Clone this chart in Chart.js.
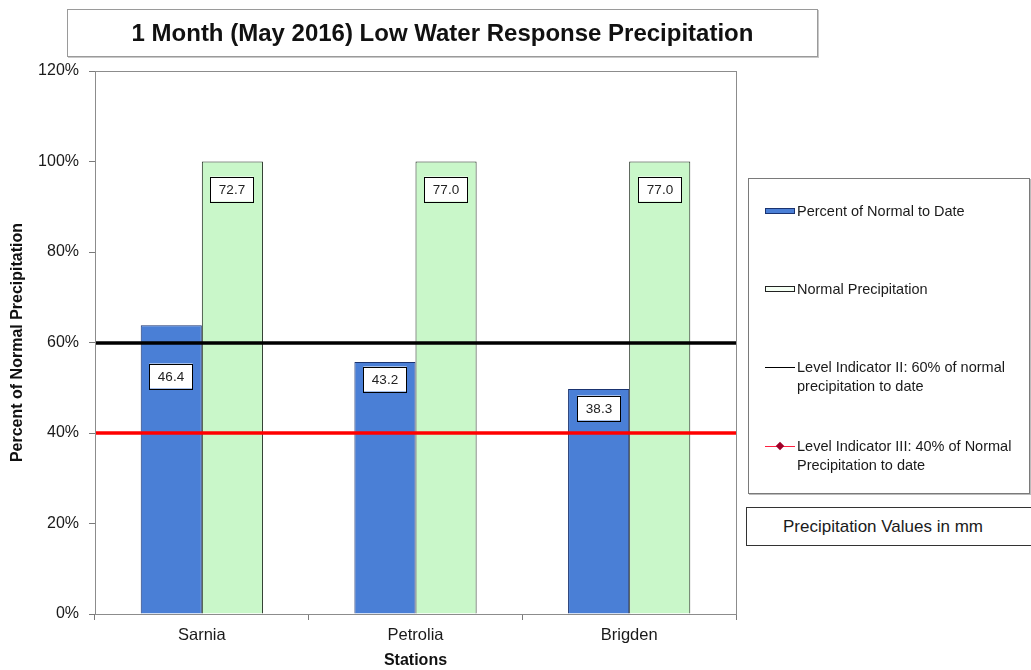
<!DOCTYPE html>
<html>
<head>
<meta charset="utf-8">
<script src="https://cdn.jsdelivr.net/npm/chart.js@4.4.1/dist/chart.umd.min.js"></script>
<style>
  html, body { margin:0; padding:0; background:#fff; }
  #wrap { position:relative; width:1031px; height:670px; overflow:hidden; font-family:"Liberation Sans", Arial, sans-serif; color:#1a1a1a; }
  canvas { position:absolute; left:0; top:0; }
  .box { position:absolute; background:#fff; box-sizing:border-box; }
  #titleBox { left:67px; top:9px; width:751px; height:48px; border:1px solid #9a9a9a; box-shadow:1px 1px 0 #c8c8c8; display:flex; align-items:center; justify-content:center; font-weight:bold; font-size:24px; color:#111; }
  #legendBox { left:748px; top:178px; width:282px; height:316px; border:1px solid #7a7a7a; box-shadow:1px 1px 0 #bbb; }
  #unitBox { left:746px; top:507px; width:300px; height:39px; border:1.5px solid #333; font-size:17px; display:flex; align-items:center; padding-left:36px; }
  .item { position:absolute; left:48px; font-size:14.5px; line-height:19px; white-space:nowrap; }
  .sw { position:absolute; left:16px; width:30px; height:6px; box-sizing:border-box; }
  .ln { position:absolute; left:16px; width:30px; height:0; }
</style>
</head>
<body>
<div id="wrap">
  <canvas id="c" width="1031" height="670"></canvas>
  <div id="titleBox" class="box">1 Month (May 2016) Low Water Response Precipitation</div>
  <div id="legendBox" class="box">
    <div class="sw" id="sw1" style="top:29px;"></div>
    <div class="item" style="top:23px;">Percent of Normal to Date</div>
    <div class="sw" id="sw2" style="top:107px;"></div>
    <div class="item" style="top:101px;">Normal Precipitation</div>
    <div class="ln" id="ln1" style="top:188px;"></div>
    <div class="item" style="top:179px;">Level Indicator II: 60% of normal<br>precipitation to date</div>
    <div class="ln" id="ln2" style="top:267px;"></div>
    <div id="dia" style="position:absolute; left:28px; top:264px; width:6px; height:6px; transform:rotate(45deg);"></div>
    <div class="item" style="top:258px;">Level Indicator III: 40% of Normal<br>Precipitation to date</div>
  </div>
  <div id="unitBox" class="box">Precipitation Values in mm</div>
</div>
<script>
// ---- data ----
const stations = ['Sarnia', 'Petrolia', 'Brigden'];
const percentOfNormalToDate = [63.8, 55.7, 49.7];
const normalPrecipitation = [100, 100, 100];
const mmToDate = [46.4, 43.2, 38.3];
const mmNormal = [72.7, 77.0, 77.0];
const levelIndicatorII = 60;
const levelIndicatorIII = 40;
const yTickValues = [0, 20, 40, 60, 80, 100, 120];

// ---- styles ----
const BLUE = '#4a7fd6', BLUE_BORDER = '#1a3370';
const GREEN = '#c9f7c9', GREEN_BORDER = '#1c2a1c';
const BLACK_LINE = '#000000', RED_LINE = '#ff0000';
const FONT = '"Liberation Sans", Arial, sans-serif';

document.getElementById('sw1').style.cssText += `background:${BLUE};border:1px solid ${BLUE_BORDER};`;
document.getElementById('sw2').style.cssText += `background:#f4fff4;border:1px solid #222;`;
document.getElementById('ln1').style.cssText += `border-top:1.5px solid ${BLACK_LINE};`;
document.getElementById('ln2').style.cssText += `border-top:1.5px solid #ff2040;`;
document.getElementById('dia').style.cssText += `background:#a00028;`;

// horizontal level indicator lines, positioned through the y scale
const levelLines = {
  id: 'levelLines',
  afterDatasetsDraw(chart, args, opts) {
    const {ctx, chartArea: a, scales: {y}} = chart;
    ctx.save();
    opts.lines.forEach(l => {
      const py = Math.round(y.getPixelForValue(l.value));
      ctx.strokeStyle = l.color;
      ctx.lineWidth = l.width;
      ctx.beginPath();
      ctx.moveTo(a.left, py);
      ctx.lineTo(a.right, py);
      ctx.stroke();
    });
    ctx.restore();
  }
};

const valueLabels = {
  id: 'valueLabels',
  afterDatasetsDraw(chart, args, opts) {
    const ctx = chart.ctx;
    ctx.save();
    ctx.font = `13.5px ${FONT}`;
    ctx.textAlign = 'center';
    ctx.textBaseline = 'middle';
    opts.items.forEach(item => {
      const meta = chart.getDatasetMeta(item.datasetIndex);
      meta.data.forEach((bar, i) => {
        const text = item.values[i].toFixed(1);
        const w = ctx.measureText(text).width + 17;
        const h = 25;
        const cx = Math.round(bar.x), cy = Math.round(bar.y + item.offsets[i]);
        ctx.fillStyle = '#fff';
        ctx.fillRect(cx - w / 2, cy - h / 2, w, h);
        ctx.strokeStyle = '#000';
        ctx.lineWidth = 1;
        ctx.strokeRect(Math.round(cx - w / 2) + 0.5, Math.round(cy - h / 2) + 0.5, Math.round(w), h);
        ctx.fillStyle = '#222';
        ctx.fillText(text, cx, cy + 1);
      });
    });
    ctx.restore();
  }
};

const plotBorder = {
  id: 'plotBorder',
  afterDraw(chart) {
    const {ctx, chartArea: a} = chart;
    ctx.save();
    ctx.strokeStyle = '#8c8c8c';
    ctx.lineWidth = 1;
    ctx.strokeRect(Math.round(a.left) + 0.5, Math.round(a.top) + 0.5, Math.round(a.right - a.left), Math.round(a.bottom - a.top));
    ctx.restore();
  }
};

new Chart(document.getElementById('c'), {
  type: 'bar',
  data: {
    labels: stations,
    datasets: [
      {
        label: 'Percent of Normal to Date',
        data: percentOfNormalToDate,
        backgroundColor: BLUE, borderColor: BLUE_BORDER, borderWidth: 1,
        barPercentage: 1, categoryPercentage: 0.572
      },
      {
        label: 'Normal Precipitation',
        data: normalPrecipitation,
        backgroundColor: GREEN, borderColor: GREEN_BORDER, borderWidth: 1,
        barPercentage: 1, categoryPercentage: 0.572
      }
    ]
  },
  options: {
    responsive: false,
    animation: false,
    devicePixelRatio: 1,
    layout: { padding: { left: 0, top: 71, right: 295, bottom: 0 } },
    plugins: {
      legend: { display: false },
      tooltip: { enabled: false },
      title: { display: false },
      levelLines: {
        lines: [
          { value: levelIndicatorII, color: BLACK_LINE, width: 3.5 },
          { value: levelIndicatorIII, color: RED_LINE, width: 3.5 }
        ]
      },
      valueLabels: {
        items: [
          { datasetIndex: 0, values: mmToDate, offsets: [51, 17, 19] },
          { datasetIndex: 1, values: mmNormal, offsets: [27, 27, 27] }
        ]
      }
    },
    scales: {
      x: {
        type: 'category',
        afterFit: s => { s.height = 56; },
        grid: { display: true, drawOnChartArea: false, drawTicks: true, tickLength: 6, color: '#7a7a7a', offset: true },
        border: { display: true, color: '#7a7a7a' },
        ticks: { font: { family: FONT, size: 16.5 }, color: '#1a1a1a', padding: 6 },
        title: { display: true, text: 'Stations', font: { family: FONT, size: 16, weight: 'bold' }, color: '#111', padding: { top: 0, bottom: 0 } }
      },
      y: {
        min: 0, max: 120,
        afterFit: s => { s.width = 95; },
        afterBuildTicks: s => { s.ticks = yTickValues.map(v => ({ value: v })); },
        grid: { display: true, drawOnChartArea: false, drawTicks: true, tickLength: 6, color: '#7a7a7a' },
        border: { display: true, color: '#7a7a7a' },
        ticks: { font: { family: FONT, size: 16 }, color: '#1a1a1a', padding: 10, callback: v => v + '%' },
        title: { display: true, text: 'Percent of Normal Precipitation', font: { family: FONT, size: 16, weight: 'bold' }, color: '#111', padding: { top: 8, bottom: 0 } }
      }
    }
  },
  plugins: [levelLines, valueLabels, plotBorder]
});
</script>
</body>
</html>
